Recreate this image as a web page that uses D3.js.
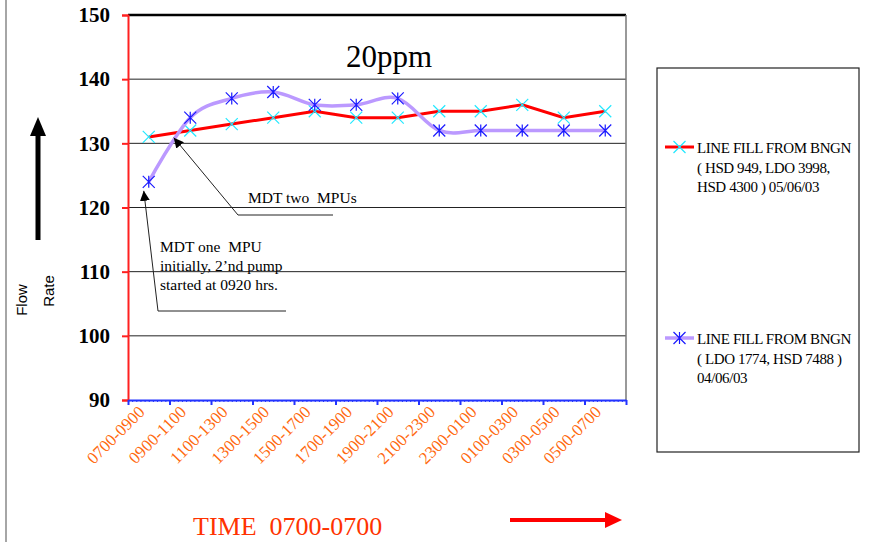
<!DOCTYPE html>
<html>
<head>
<meta charset="utf-8">
<script src="https://cdn.jsdelivr.net/npm/d3@7"></script>
<style>
  body { margin: 0; background: #fff; }
  text { white-space: pre; }
</style>
</head>
<body>
<div id="chart"></div>
<script>
const categories = ["0700-0900", "0900-1100", "1100-1300", "1300-1500", "1500-1700", "1700-1900",
                    "1900-2100", "2100-2300", "2300-0100", "0100-0300", "0300-0500", "0500-0700"];
const fill0506 = [131, 132, 133, 134, 135, 134, 134, 135, 135, 136, 134, 135];
const fill0406 = [124, 134, 137, 138, 136, 136, 137, 132, 132, 132, 132, 132];
const yTicks = [90, 100, 110, 120, 130, 140, 150];
const legendLabels = [
  ["LINE FILL FROM BNGN", "( HSD 949, LDO 3998,", "HSD 4300 ) 05/06/03"],
  ["LINE FILL FROM BNGN", "( LDO 1774, HSD 7488 )", "04/06/03"]
];

const W = 890, H = 542;
const plot = {left: 128, right: 626, top: 15, bottom: 400};
const serif = "'Liberation Serif', 'Times New Roman', serif";
const sans = "'Liberation Sans', Arial, sans-serif";

const svg = d3.select("#chart").append("svg")
    .attr("width", W).attr("height", H)
    .attr("viewBox", `0 0 ${W} ${H}`);

// outer frame edge on the left
svg.append("line").attr("x1", 6).attr("x2", 6).attr("y1", 0).attr("y2", H)
   .attr("stroke", "#888").attr("stroke-width", 1.5);

const x = d3.scaleBand().domain(categories).range([plot.left, plot.right]).padding(0);
const xi = d3.scaleLinear().domain([0, categories.length]).range([plot.left, plot.right]);
const y = d3.scaleLinear().domain([90, 150]).range([plot.bottom, plot.top]);
const cx = c => x(c) + x.bandwidth() / 2;

// gridlines
svg.append("g").selectAll("line")
  .data(yTicks.filter(t => t > 90))
  .join("line")
  .attr("x1", plot.left).attr("x2", plot.right)
  .attr("y1", d => y(d)).attr("y2", d => y(d))
  .attr("stroke", d => d === 150 ? "#000" : "#222")
  .attr("stroke-width", d => d === 150 ? 2.5 : 1);

// right border of plot
svg.append("line").attr("x1", plot.right).attr("x2", plot.right)
   .attr("y1", plot.top).attr("y2", plot.bottom)
   .attr("stroke", "#777").attr("stroke-width", 1.5);

// y axis (red)
const yAxis = svg.append("g").attr("transform", `translate(${plot.left},0)`)
  .call(d3.axisLeft(y).tickValues(yTicks).tickSize(6).tickPadding(12));
yAxis.select(".domain").attr("stroke", "#ff2020").attr("stroke-width", 2);
yAxis.selectAll(".tick line").attr("stroke", "#ff2020").attr("stroke-width", 2);
yAxis.selectAll(".tick text")
  .attr("fill", "#000")
  .style("font-family", serif)
  .style("font-weight", "bold").style("font-size", "21px");

// x axis (blue) with minor ticks
const minor = svg.append("g").attr("transform", `translate(0,${plot.bottom})`)
  .call(d3.axisBottom(xi).tickValues(d3.range(0, categories.length + 0.001, 0.1)).tickSize(2).tickFormat(""));
minor.select(".domain").remove();
minor.selectAll(".tick line").attr("stroke", "#2233ff").attr("stroke-width", 1);

const xAxis = svg.append("g").attr("transform", `translate(0,${plot.bottom})`)
  .call(d3.axisBottom(xi).tickValues(d3.range(0, categories.length + 1)).tickSize(5).tickSizeOuter(0).tickFormat(""));
xAxis.select(".domain").attr("stroke", "#2233ff").attr("stroke-width", 2);
xAxis.selectAll(".tick line").attr("stroke", "#2233ff").attr("stroke-width", 2);

// category labels
svg.append("g").selectAll("text")
  .data(categories)
  .join("text")
  .attr("transform", d => `translate(${cx(d) - 3},${plot.bottom + 13}) rotate(-45)`)
  .attr("text-anchor", "end")
  .attr("fill", "#ff6a10")
  .style("font-family", serif)
  .style("font-size", "17px")
  .text(d => d);

// series
const straight = d3.line().x((d, i) => cx(categories[i])).y(d => y(d));
const smooth = d3.line().x((d, i) => cx(categories[i])).y(d => y(d)).curve(d3.curveCardinal);

svg.append("path").datum(fill0506)
  .attr("d", straight).attr("fill", "none")
  .attr("stroke", "#ff0000").attr("stroke-width", 3);

const m = 6;
svg.append("g").selectAll("path")
  .data(fill0506)
  .join("path")
  .attr("transform", (d, i) => `translate(${cx(categories[i])},${y(d)})`)
  .attr("d", `M${-m},${-m}L${m},${m}M${-m},${m}L${m},${-m}`)
  .attr("stroke", "#22e8ff").attr("stroke-width", 1.2);

svg.append("path").datum(fill0406)
  .attr("d", smooth).attr("fill", "none")
  .attr("stroke", "#bb99ff").attr("stroke-width", 3.5);

svg.append("g").selectAll("path")
  .data(fill0406)
  .join("path")
  .attr("transform", (d, i) => `translate(${cx(categories[i])},${y(d)})`)
  .attr("d", `M${-m},${-m}L${m},${m}M${-m},${m}L${m},${-m}M0,${-m}L0,${m}`)
  .attr("stroke", "#1a1aff").attr("stroke-width", 1.2);

// title inside plot
svg.append("text").attr("x", 389).attr("y", 67).attr("text-anchor", "middle")
  .style("font-family", serif)
  .style("font-size", "31px").text("20ppm");

// annotations
const defs = svg.append("defs");
defs.append("marker").attr("id", "ah").attr("viewBox", "0 0 10 10")
  .attr("refX", 10).attr("refY", 5).attr("markerWidth", 10).attr("markerHeight", 10)
  .attr("markerUnits", "userSpaceOnUse").attr("orient", "auto")
  .append("path").attr("d", "M0,0L10,5L0,10z").attr("fill", "#000");

svg.append("text").attr("x", 248).attr("y", 203)
  .style("font-family", serif).style("font-size", "15.5px").text("MDT two  MPUs");
svg.append("polyline")
  .attr("points", `333,215 238,215 ${cx(categories[0]) + 25},${y(131.2) + 2}`)
  .attr("fill", "none").attr("stroke", "#222").attr("stroke-width", 1)
  .attr("marker-end", "url(#ah)");

svg.append("g").selectAll("text")
  .data(["MDT one  MPU", "initially, 2\u2019nd pump", "started at 0920 hrs."])
  .join("text")
  .attr("x", 160).attr("y", (d, i) => 252 + i * 19)
  .style("font-family", serif).style("font-size", "15.5px").text(d => d);
svg.append("polyline")
  .attr("points", `286,311 158,311 ${cx(categories[0]) - 5},${y(124) + 9}`)
  .attr("fill", "none").attr("stroke", "#222").attr("stroke-width", 1)
  .attr("marker-end", "url(#ah)");

// axis titles
svg.append("text").attr("transform", "translate(27,300) rotate(-90)")
  .attr("text-anchor", "middle")
  .style("font-family", sans).style("font-size", "15px").text("Flow");
svg.append("text").attr("transform", "translate(54,291) rotate(-90)")
  .attr("text-anchor", "middle")
  .style("font-family", sans).style("font-size", "15px").text("Rate");

// up arrow
svg.append("line").attr("x1", 38).attr("x2", 38).attr("y1", 240).attr("y2", 133)
  .attr("stroke", "#000").attr("stroke-width", 5);
svg.append("path").attr("d", "M30,136L38,117L46,136z").attr("fill", "#000");

// x title + red arrow
svg.append("text").attr("x", 193).attr("y", 535)
  .attr("fill", "#ff3300")
  .style("font-family", serif).style("font-size", "26px").text("TIME  0700-0700");
svg.append("line").attr("x1", 510).attr("x2", 608).attr("y1", 520).attr("y2", 520)
  .attr("stroke", "#ff0000").attr("stroke-width", 4);
svg.append("path").attr("d", "M605,512L622,520L605,528z").attr("fill", "#ff0000");

// legend
svg.append("rect").attr("x", 657).attr("y", 68).attr("width", 202).attr("height", 384)
  .attr("fill", "#fff").attr("stroke", "#222").attr("stroke-width", 1.2);

const legendY = [147, 338];
const lg = svg.append("g").selectAll("g")
  .data(legendLabels)
  .join("g")
  .attr("transform", (d, i) => `translate(0,${legendY[i]})`);

lg.append("line").attr("x1", 665).attr("x2", 694).attr("y1", 0).attr("y2", 0)
  .attr("stroke", (d, i) => i === 0 ? "#ff0000" : "#bb99ff")
  .attr("stroke-width", (d, i) => i === 0 ? 3 : 3.5);
lg.append("path")
  .attr("transform", "translate(679.5,0)")
  .attr("d", (d, i) => i === 0
      ? `M${-m},${-m}L${m},${m}M${-m},${m}L${m},${-m}`
      : `M${-m},${-m}L${m},${m}M${-m},${m}L${m},${-m}M0,${-m}L0,${m}`)
  .attr("stroke", (d, i) => i === 0 ? "#22e8ff" : "#1a1aff").attr("stroke-width", 1.2);
lg.append("text")
  .style("font-family", serif).style("font-size", "15px")
  .attr("letter-spacing", "-0.4")
  .selectAll("tspan")
  .data(d => d)
  .join("tspan")
  .attr("x", 697).attr("y", (d, i) => 6 + i * 19.5)
  .text(d => d);
</script>
</body>
</html>
